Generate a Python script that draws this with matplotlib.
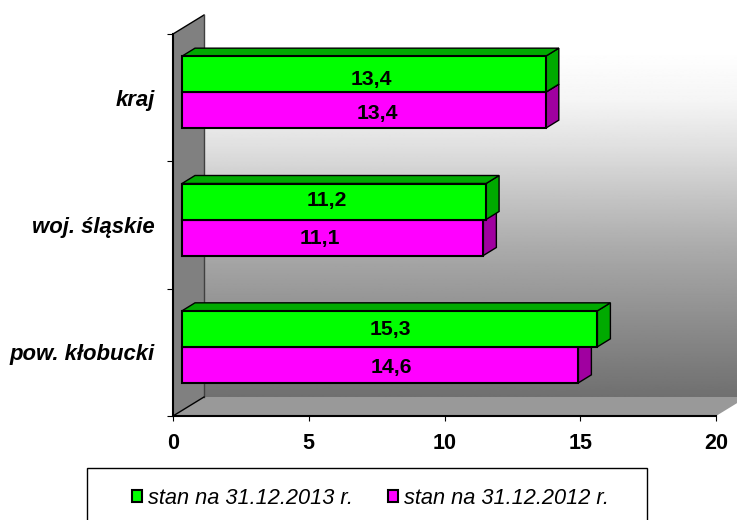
import numpy as np
import matplotlib
matplotlib.use('Agg')
import matplotlib.pyplot as plt
from matplotlib.patches import Patch, Polygon, Rectangle

plt.rcParams['font.family'] = ['Liberation Sans', 'DejaVu Sans']

categories = ['pow. kłobucki', 'woj. śląskie', 'kraj']
stan_2013 = [15.3, 11.2, 13.4]
stan_2012 = [14.6, 11.1, 13.4]
labels_2013 = ['15,3', '11,2', '13,4']
labels_2012 = ['14,6', '11,1', '13,4']
series_names = ['stan na 31.12.2013 r.', 'stan na 31.12.2012 r.']

# hand placed value labels in the original, offsets (x, y up) in pixels from bar centre
nudge_2013 = [(1, 0), (-7, 2), (7, -5)]
nudge_2012 = [(11, -2), (-13, 0), (13, -3)]

W, H = 737, 520
fig = plt.figure(figsize=(W / 100, H / 100), dpi=100)

# chart furniture (walls, floor, legend box) in pixel coordinates
bg = fig.add_axes([0, 0, 1, 1])
bg.set_xlim(0, W)
bg.set_ylim(H, 0)
bg.axis('off')

grad_y = [15, 50, 100, 150, 200, 250, 300, 350, 397]
grad_v = [255, 255, 245, 222, 195, 170, 150, 130, 112]
grad = np.interp(np.linspace(15, 397, 300), grad_y, grad_v)[:, None]
bg.imshow(grad, cmap='gray', vmin=0, vmax=255, extent=(204, W, 397, 15), aspect='auto', zorder=1)
bg.set_xlim(0, W)
bg.set_ylim(H, 0)
bg.add_patch(Polygon([(173, 34), (204, 15), (204, 397), (173, 416)], fc='#808080', ec='none', zorder=2))
bg.add_patch(Polygon([(173, 416), (204, 397), (W + 10, 397), (716, 416)], fc='#999999', ec='none', zorder=2))
bg.plot([173, 204], [34, 15], color='black', lw=1, zorder=3)
bg.plot([204, 204], [15, 397], color='#404040', lw=1, zorder=3)
bg.plot([204, 173], [397, 416], color='black', lw=1, zorder=3)
bg.add_patch(Rectangle((87, 467.5), 560, 60, fc='white', ec='black', lw=1, zorder=2))

# main axes sits on the front plane of the 3d box
ax = fig.add_axes([173 / W, 1 - 416 / H, (716 - 173) / W, (416 - 34) / H])
ax.patch.set_alpha(0)
ax.set_xlim(0, 20)
ax.set_ylim(0, 3)

px_x = 20 / (716 - 173)
px_y = 3 / (416 - 34)
off_x = 9 * px_x
off_y = 5.5 * px_y
dep_x = 13 * px_x
dep_y = 8 * px_y
bar_h = 36 * px_y

y = np.arange(3) + 0.5 + off_y


def bars(values, base, face, side, labels, nudge, name):
    r = ax.barh(base, values, height=bar_h, left=off_x, align='edge', color=face,
                edgecolor='black', lw=1.5, zorder=5, label=name)
    for i, v in enumerate(values):
        x1 = off_x + v
        top = base[i] + bar_h
        ax.add_patch(Polygon([(x1, base[i]), (x1 + dep_x, base[i] + dep_y),
                              (x1 + dep_x, top + dep_y), (x1, top)],
                             fc=side, ec='black', lw=1, zorder=4))
        ax.add_patch(Polygon([(off_x, top), (off_x + dep_x, top + dep_y),
                              (x1 + dep_x, top + dep_y), (x1, top)],
                             fc=side, ec='black', lw=1, zorder=4))
        ax.annotate(labels[i], (off_x + v / 2, base[i] + bar_h / 2),
                    xytext=(nudge[i][0] * 0.72, nudge[i][1] * 0.72 - 0.5), textcoords='offset points',
                    ha='center', va='center', fontsize=15.2, fontweight='bold', zorder=6)
    return r


bars(stan_2012, y - bar_h, '#ff00ff', '#a000a0', labels_2012, nudge_2012, series_names[1])
bars(stan_2013, y, '#00ff00', '#00aa00', labels_2013, nudge_2013, series_names[0])

for s in ['top', 'right']:
    ax.spines[s].set_visible(False)
ax.spines['left'].set_linewidth(1.5)
ax.spines['bottom'].set_linewidth(1.5)

ax.set_xticks([0, 5, 10, 15, 20])
ax.tick_params(axis='x', length=3.5, width=0.8, pad=9, labelsize=15.5)
for t in ax.get_xticklabels():
    t.set_fontweight('bold')

ax.set_yticks([0, 1, 2, 3])
ax.set_yticklabels([])
ax.set_yticks(np.arange(3) + 0.5, categories, minor=True)
ax.tick_params(axis='y', which='major', length=4.5, width=0.8)
ax.tick_params(axis='y', which='minor', length=0, pad=13, labelsize=15.9)
for t in ax.get_yticklabels(minor=True):
    t.set_fontweight('bold')
    t.set_fontstyle('italic')

handles = [Patch(fc='#00ff00', ec='black', lw=1.5), Patch(fc='#ff00ff', ec='black', lw=1.5)]
fig.legend(handles, series_names, loc='center', bbox_to_anchor=(370.5 / W, 1 - 498 / H),
           ncol=2, frameon=False, prop={'style': 'italic', 'size': 15.7},
           handlelength=0.45, handleheight=0.5, handletextpad=0.25, columnspacing=1.65)

fig.savefig('out.png', dpi=100)
